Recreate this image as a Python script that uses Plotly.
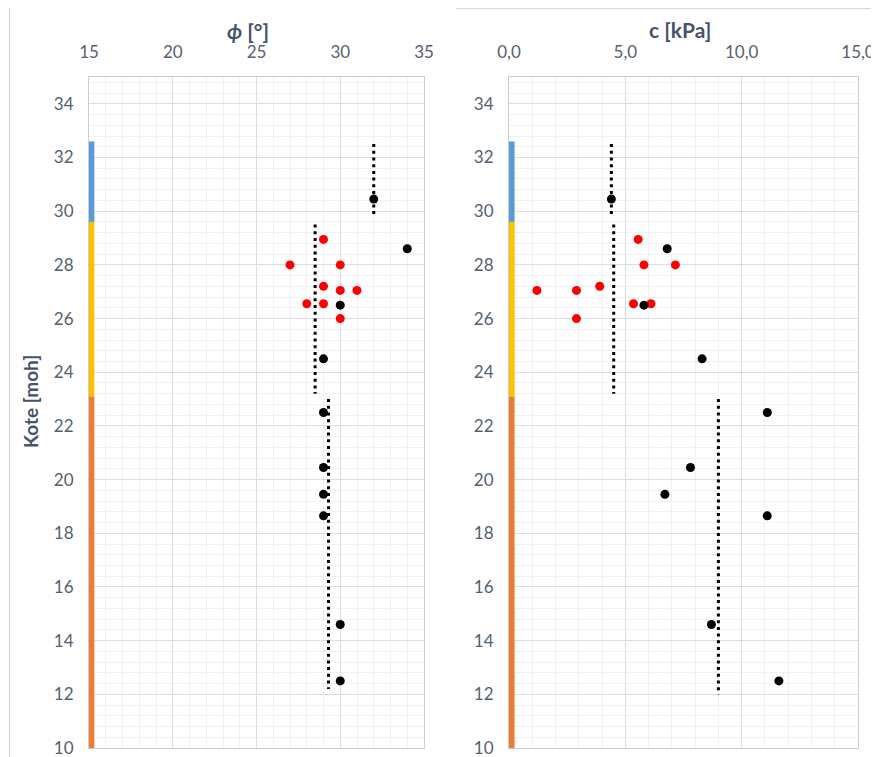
import plotly.graph_objects as go

# ---------------- data ----------------
# soil layers (elevation, moh)
layer_top = [32.6, 29.6, 23.1]
layer_bottom = [29.6, 23.1, 10.0]
layer_colors = ["#5B9BD5", "#FFC000", "#ED7D31"]

# design values per layer (dotted lines) and their vertical extent
phi_design = [32.0, 28.5, 29.3]
c_design = [4.4, 4.5, 9.0]
design_top = [32.5, 29.5, 23.0]
design_bottom_phi = [29.8, 23.2, 12.2]
design_bottom_c = [29.8, 23.2, 12.0]

# black test points
kote_black = [30.45, 28.6, 26.5, 24.5, 22.5, 20.45, 19.45, 18.65, 14.6, 12.5]
phi_black = [32, 34, 30, 29, 29, 29, 29, 29, 30, 30]
c_black = [4.4, 6.8, 5.8, 8.3, 11.1, 7.8, 6.7, 11.1, 8.7, 11.6]

# red test points
kote_red = [28.95, 28.0, 28.0, 27.2, 27.05, 27.05, 26.55, 26.55, 26.0]
phi_red = [29, 27, 30, 29, 30, 31, 28, 29, 30]
c_red = [5.55, 5.8, 7.15, 3.9, 1.2, 2.9, 5.35, 6.1, 2.9]

# axis ticks
phi_ticks = [15, 20, 25, 30, 35]
c_ticks = [0, 5, 10, 15]
c_ticktext = ["0,0", "5,0", "10,0", "15,0"]

# ---------------- figure ----------------
OFF = 8                      # page body margin
W, H = 879 - OFF, 757
PLOT_TOP, PLOT_BOT = 77, 748  # in window pixels
PH = PLOT_BOT - PLOT_TOP
T = PLOT_TOP - OFF
B = H - T - PH


def xp(px):
    return (px - OFF) / W


def yp(py):
    return (PLOT_BOT - py) / PH


FONT = "Lato"
TICK_COLOR = "#555F6F"
TITLE_COLOR = "#44546A"
MAJOR = "#D9DEE6"
MINOR = "#EEF1F5"
BORDER = "#C5CEDA"

fig = go.Figure()

dot_style = dict(color="black", width=3, dash="3px,3.7px")

for i in range(3):
    fig.add_trace(go.Scatter(x=[phi_design[i], phi_design[i]],
                             y=[design_top[i], design_bottom_phi[i]],
                             mode="lines", line=dot_style, xaxis="x", yaxis="y",
                             showlegend=False, hoverinfo="skip"))
    fig.add_trace(go.Scatter(x=[c_design[i], c_design[i]],
                             y=[design_top[i], design_bottom_c[i]],
                             mode="lines", line=dot_style, xaxis="x2", yaxis="y2",
                             showlegend=False, hoverinfo="skip"))

mk = dict(size=9, line=dict(width=0))
fig.add_trace(go.Scatter(x=phi_red, y=kote_red, mode="markers", xaxis="x", yaxis="y",
                         marker=dict(color="#FF0000", **mk), showlegend=False))
fig.add_trace(go.Scatter(x=phi_black, y=kote_black, mode="markers", xaxis="x", yaxis="y",
                         marker=dict(color="black", **mk), showlegend=False))
fig.add_trace(go.Scatter(x=c_red, y=kote_red, mode="markers", xaxis="x2", yaxis="y2",
                         marker=dict(color="#FF0000", **mk), showlegend=False))
fig.add_trace(go.Scatter(x=c_black, y=kote_black, mode="markers", xaxis="x2", yaxis="y2",
                         marker=dict(color="black", **mk), showlegend=False))

shapes = []
for xr, yr in (("x domain", "y"), ("x2 domain", "y2")):
    for i in range(3):
        shapes.append(dict(type="rect", xref=xr, yref=yr, x0=0, x1=0.016,
                           y0=layer_bottom[i], y1=layer_top[i],
                           fillcolor=layer_colors[i], line=dict(width=0), layer="above"))

# image frame remnants
shapes.append(dict(type="line", xref="paper", yref="paper",
                   x0=xp(9.5), x1=xp(9.5), y0=yp(760), y1=yp(OFF),
                   line=dict(color="#D6D6D6", width=1)))
shapes.append(dict(type="line", xref="paper", yref="paper",
                   x0=xp(456), x1=1, y0=yp(8.5), y1=yp(8.5),
                   line=dict(color="#D6D6D6", width=1)))

tickfont = dict(family=FONT, size=17, color=TICK_COLOR)

common_x = dict(side="top", showgrid=True, gridcolor=MAJOR, gridwidth=1,
                showline=True, mirror=True, linecolor=BORDER, linewidth=1,
                zeroline=False, ticks="", ticklabelstandoff=11,
                ticklabeloverflow="allow",
                tickfont=tickfont, fixedrange=True)
common_y = dict(range=[10, 35], tick0=0, dtick=2, showgrid=True, gridcolor=MAJOR,
                gridwidth=1, showline=True, mirror=True, linecolor=BORDER, linewidth=1,
                zeroline=False, ticks="", ticklabelstandoff=11, tickfont=tickfont,
                ticklabeloverflow="allow",
                minor=dict(dtick=0.4, tick0=0, showgrid=True, gridcolor=MINOR, gridwidth=1),
                domain=[0, 1], fixedrange=True)

fig.update_layout(
    width=W, height=H,
    margin=dict(l=0, r=0, t=T, b=B, autoexpand=False),
    paper_bgcolor="white", plot_bgcolor="white",
    font=dict(family=FONT, color=TICK_COLOR),
    xaxis=dict(domain=[xp(89), xp(424)], range=[15, 35], anchor="y",
               tickvals=phi_ticks,
               minor=dict(dtick=1, tick0=0, showgrid=True, gridcolor=MINOR, gridwidth=1),
               **common_x),
    xaxis2=dict(domain=[xp(509), xp(858)], range=[0, 15], anchor="y2",
                tickvals=c_ticks, ticktext=c_ticktext,
                minor=dict(dtick=1, tick0=0, showgrid=True, gridcolor=MINOR, gridwidth=1),
                **common_x),
    yaxis=dict(anchor="x", **common_y),
    yaxis2=dict(anchor="x2", **common_y),
    shapes=shapes,
    annotations=[
        dict(text="<b><i>ϕ</i> [°]</b>", xref="paper", yref="paper",
             x=xp(248), y=yp(31), xanchor="center", yanchor="middle",
             showarrow=False, font=dict(family=FONT, size=21, color=TITLE_COLOR)),
        dict(text="<b>c [kPa]</b>", xref="paper", yref="paper",
             x=xp(680), y=yp(29), xanchor="center", yanchor="middle",
             showarrow=False, font=dict(family=FONT, size=21, color=TITLE_COLOR)),
        dict(text="<b>Kote [moh]</b>", xref="paper", yref="paper",
             x=xp(30), y=yp(402), xanchor="center", yanchor="middle",
             textangle=-90, showarrow=False,
             font=dict(family=FONT, size=19, color=TITLE_COLOR)),
    ],
)

fig.write_html("out.html")
